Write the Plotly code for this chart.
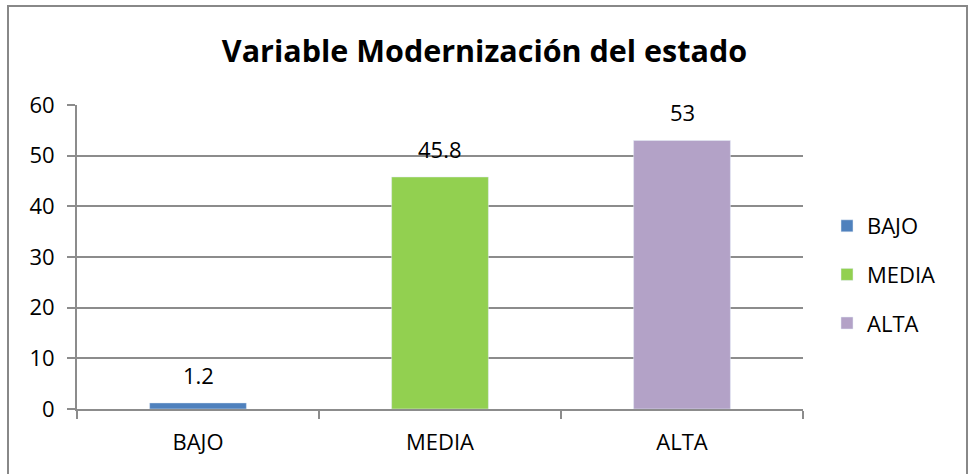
import plotly.graph_objects as go

categories = ["BAJO", "MEDIA", "ALTA"]
values = [1.2, 45.8, 53]
labels = ["1.2", "45.8", "53"]
colors = ["#4F81BD", "#92D050", "#B3A2C7"]
y_ticks = [0, 10, 20, 30, 40, 50, 60]
title_text = "Variable Modernización del estado"

W, H = 969, 474
L, R, T, B = 77, 803, 105, 409

FONT = "Open Sans"
GRID = "#8c8c8c"

fig = go.Figure()
for cat, val, col in zip(categories, values, colors):
    fig.add_trace(go.Bar(
        x=[cat], y=[val], name=cat, marker_color=col, width=0.4,
        legendgroup=cat, hoverinfo="x+y",
    ))

for cat, val, lab in zip(categories, values, labels):
    fig.add_annotation(x=cat, y=val, text=lab, showarrow=False,
                       yanchor="bottom", yshift=11,
                       font=dict(family=FONT, size=22, color="#000000"))

def px(xp):
    return (xp - L) / (R - L)

def py(yp):
    return (B - yp) / (B - T)

fig.add_shape(type="rect", xref="paper", yref="paper",
              x0=px(8), x1=px(967), y0=py(490), y1=py(6),
              line=dict(color="#888888", width=2), fillcolor="rgba(0,0,0,0)",
              layer="below")

fig.update_layout(
    width=W, height=H,
    margin=dict(l=L, r=W - R, t=T, b=H - B, pad=0),
    paper_bgcolor="white", plot_bgcolor="white",
    barmode="overlay",
    title=dict(text="<b>" + title_text + "</b>", x=0.5, xanchor="center",
               y=1 - 51 / H, yanchor="middle", yref="container",
               font=dict(family=FONT, size=30.5, color="#000000")),
    font=dict(family=FONT, size=22, color="#000000"),
    showlegend=True,
    legend=dict(x=px(827), xanchor="left", y=py(205), yanchor="top",
                font=dict(family=FONT, size=22, color="#000000"),
                tracegroupgap=17, bgcolor="rgba(0,0,0,0)",
                itemclick=False, itemdoubleclick=False),
    bargap=0.6,
)

fig.update_xaxes(type="category", categoryorder="array", categoryarray=categories,
                 showline=True, linecolor=GRID, linewidth=2,
                 ticks="outside", ticklen=8, tickcolor=GRID, tickwidth=2,
                 tickson="boundaries", showgrid=False,
                 tickfont=dict(family=FONT, size=22), ticklabelstandoff=13)
fig.update_yaxes(range=[0, 60], tickvals=y_ticks, showgrid=True,
                 gridcolor=GRID, gridwidth=2, showline=True, linecolor=GRID,
                 linewidth=2, ticks="outside", ticklen=8, tickcolor=GRID,
                 tickwidth=2, zeroline=False,
                 tickfont=dict(family=FONT, size=22), ticklabelstandoff=8)

fig.write_html("out.html", config={"displayModeBar": False},
               post_script="document.body.style.margin='0';")
